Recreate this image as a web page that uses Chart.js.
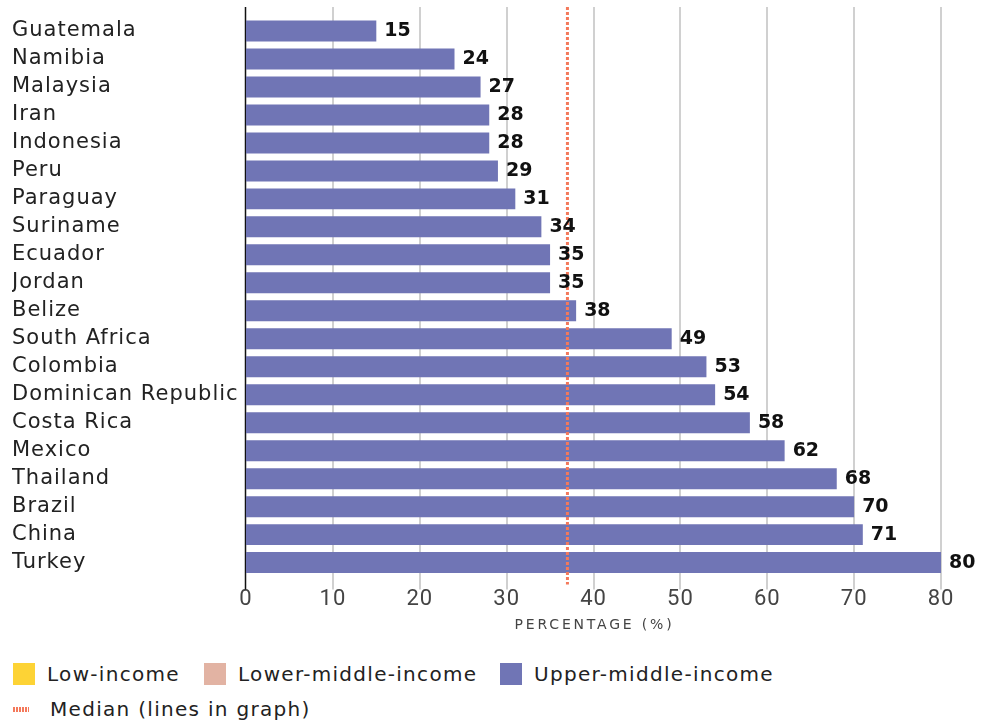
<!DOCTYPE html>
<html>
<head>
<meta charset="utf-8">
<script src="https://cdn.jsdelivr.net/npm/chart.js@4"></script>
<style>
  body { margin: 0; background: #fff; font-family: "DejaVu Sans", sans-serif; }
  #wrap { position: relative; width: 981px; height: 645px; }
  .legend { position: relative; height: 78px; color: #222; font-size: 20px; letter-spacing: 1.3px; }
  .item { position: absolute; display: flex; align-items: center; }
  .sw { width: 22px; height: 22px; margin-right: 12px; }
  .med { width: 16px; height: 5px; margin-right: 21px;
    background: repeating-linear-gradient(90deg, #f4795b 0 2px, transparent 2px 3px); }
</style>
</head>
<body>
<div id="wrap"><canvas id="chart"></canvas></div>
<div class="legend" id="legend"></div>
<script>
// ============================================================
// DATA
// ============================================================
const countries = ['Guatemala', 'Namibia', 'Malaysia', 'Iran', 'Indonesia', 'Peru', 'Paraguay', 'Suriname',
  'Ecuador', 'Jordan', 'Belize', 'South Africa', 'Colombia', 'Dominican Republic', 'Costa Rica', 'Mexico',
  'Thailand', 'Brazil', 'China', 'Turkey'];
const percentages = [15, 24, 27, 28, 28, 29, 31, 34, 35, 35, 38, 49, 53, 54, 58, 62, 68, 70, 71, 80];
const medianValue = 37;
const xTicks = [0, 10, 20, 30, 40, 50, 60, 70, 80];
const legendGroups = ['Low-income', 'Lower-middle-income', 'Upper-middle-income'];
const legendColors = ['#fdd335', '#e2b3a3', '#7075b5'];
const legendX = [13, 204, 500];

const BAR_COLOR = '#7075b5';
const MEDIAN_COLOR = '#f4795b';

// Grid lines, axis line, median line, value labels and axis title
const overlayPlugin = {
  id: 'overlay',
  beforeDraw(chart) {
    // spaced-out tick labels like the original typeface
    chart.ctx.letterSpacing = '1px';
  },
  beforeDatasetsDraw(chart) {
    const { ctx, chartArea, scales: { x } } = chart;
    ctx.letterSpacing = '0px';
    const top = chartArea.top - 10, bottom = chartArea.bottom + 13;
    ctx.save();
    ctx.strokeStyle = '#d0d0d0';
    ctx.lineWidth = 2;
    xTicks.forEach(v => {
      if (v === 0) return;
      const px = Math.round(x.getPixelForValue(v));
      ctx.beginPath(); ctx.moveTo(px, top); ctx.lineTo(px, bottom); ctx.stroke();
    });
    ctx.strokeStyle = '#111';
    ctx.lineWidth = 1.5;
    const x0 = Math.round(x.getPixelForValue(0)) - 0.5;
    ctx.beginPath(); ctx.moveTo(x0, top); ctx.lineTo(x0, bottom); ctx.stroke();
    ctx.restore();
  },
  afterDatasetsDraw(chart) {
    const { ctx, chartArea, scales: { x } } = chart;
    ctx.save();
    // median
    const mx = x.getPixelForValue(medianValue);
    ctx.strokeStyle = MEDIAN_COLOR;
    ctx.lineWidth = 3;
    ctx.setLineDash([3, 2]);
    ctx.beginPath(); ctx.moveTo(mx, chartArea.top - 10); ctx.lineTo(mx, chartArea.bottom + 8); ctx.stroke();
    ctx.setLineDash([]);
    // value labels
    const meta = chart.getDatasetMeta(0);
    ctx.fillStyle = '#111';
    ctx.font = 'bold 19px "DejaVu Sans", sans-serif';
    ctx.textAlign = 'left';
    ctx.textBaseline = 'middle';
    meta.data.forEach((bar, i) => {
      ctx.fillText(String(percentages[i]), bar.x + 8, bar.y);
    });
    // axis title
    ctx.fillStyle = '#444';
    ctx.font = '14px "DejaVu Sans", sans-serif';
    ctx.letterSpacing = '2.8px';
    ctx.textAlign = 'center';
    ctx.fillText('PERCENTAGE (%)', (chartArea.left + chartArea.right) / 2 + 1, chartArea.bottom + 49);
    ctx.restore();
  }
};

new Chart(document.getElementById('chart').getContext('2d'), {
  type: 'bar',
  data: {
    labels: countries,
    datasets: [{ data: percentages, backgroundColor: BAR_COLOR, barPercentage: 0.75, categoryPercentage: 1 }]
  },
  options: {
    indexAxis: 'y',
    responsive: true,
    maintainAspectRatio: false,
    animation: false,
    layout: { padding: { top: 17, right: 40, left: 12, bottom: 22 } },
    plugins: { legend: { display: false }, tooltip: { enabled: false } },
    scales: {
      x: {
        min: 0, max: 80,
        grid: { display: false, drawTicks: false },
        border: { display: false },
        ticks: { stepSize: 10, padding: 10, color: '#444', font: { family: '"Liberation Sans Narrow", Roboto, sans-serif', size: 22 } }
      },
      y: {
        grid: { display: false, drawTicks: false },
        border: { display: false },
        afterFit(scale) { scale.width = 234; },
        ticks: { autoSkip: false, crossAlign: 'far', padding: 0, color: '#222', font: { family: '"DejaVu Sans", sans-serif', size: 21 } }
      }
    }
  },
  plugins: [overlayPlugin]
});

// Legend
const legend = document.getElementById('legend');
legendGroups.forEach((name, i) => {
  const el = document.createElement('div');
  el.className = 'item';
  el.style.left = legendX[i] + 'px';
  el.style.top = '17px';
  el.innerHTML = `<span class="sw" style="background:${legendColors[i]}"></span>${name}`;
  legend.appendChild(el);
});
const med = document.createElement('div');
med.className = 'item';
med.style.left = '13px';
med.style.top = '52px';
med.innerHTML = '<span class="med"></span>Median (lines in graph)';
legend.appendChild(med);
</script>
</body>
</html>
